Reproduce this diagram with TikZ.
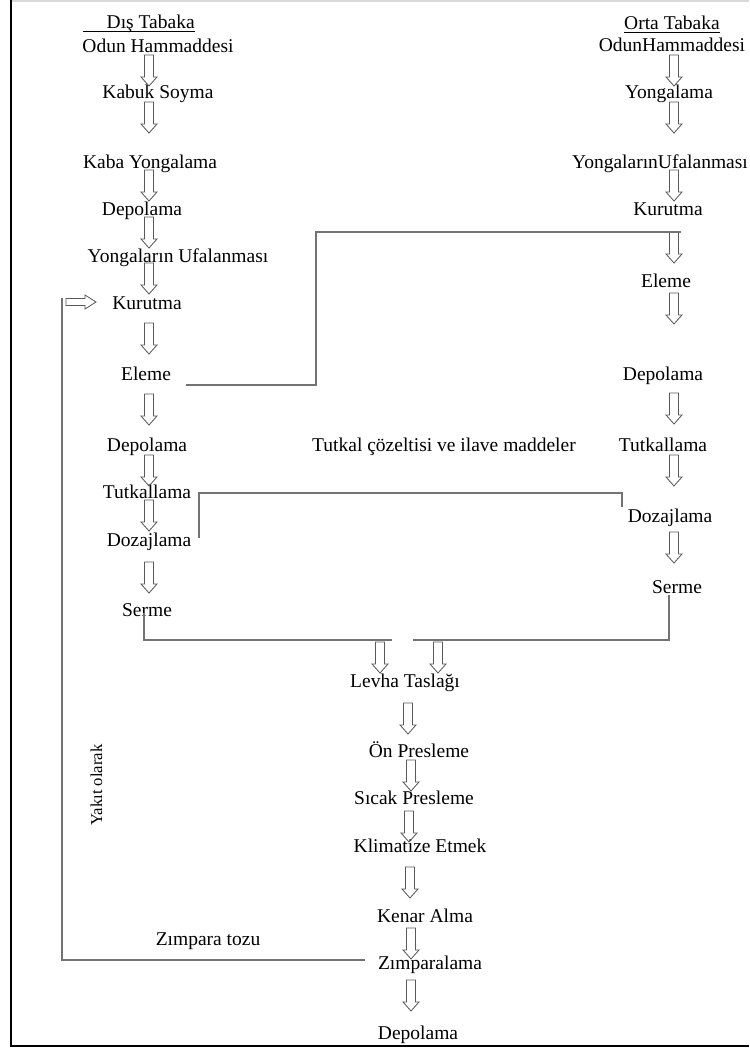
\documentclass[tikz,border=0pt]{standalone}
\usepackage{fontspec}
\setmainfont{Liberation Serif}
\begin{document}
\begin{tikzpicture}[x=0.6pt,y=-0.6pt,
    lbl/.style={anchor=base,inner sep=0pt,font=\fontsize{11.7}{14}\selectfont},
    flow/.style={draw=black!55,line width=0.7pt},
    downarr/.pic={\draw[black!65,line width=0.5pt] (-4.5,0) -- (4.5,0) -- (4.5,22) -- (8,22) -- (0,31) -- (-8,22) -- (-4.5,22) -- cycle;},
    rightarr/.pic={\draw[black!65,line width=0.5pt] (0,-3.5) -- (19,-3.5) -- (19,-7) -- (30,0) -- (19,7) -- (19,3.5) -- (0,3.5) -- cycle;}]
    \useasboundingbox (0,0) rectangle (749,1049);
    \draw[black!15,line width=1pt] (11,1) -- (749,1);
    \draw[line width=1pt] (11,0) -- (11,1046) -- (749,1046);
    % dis tabaka
    \node[lbl] (dis) at (139,29) {\underline{\hspace{14pt}Dı\smash{ş} Tabaka}};
    \node[lbl] (odunL) at (158,53) {Odun Hammaddesi};
    \node[lbl] (kabuk) at (158,99) {Kabuk Soyma};
    \node[lbl] (kabaL) at (150,169) {Kaba Yongalama};
    \node[lbl] (depoL1) at (142,216) {Depolama};
    \node[lbl] (ufalL) at (178,263) {Yongaların Ufalanması};
    \node[lbl] (kurutL) at (147,310) {Kurutma};
    \node[lbl] (elemeL) at (146,381) {Eleme};
    \node[lbl] (depoL2) at (147,451) {Depolama};
    \node[lbl] (tutkL) at (147,498) {Tutkallama};
    \node[lbl] (dozL) at (149,546) {Dozajlama};
    \node[lbl] (sermeL) at (147,616) {Serme};
    \pic at (149,55) {downarr};
    \pic at (149,102) {downarr};
    \pic at (149,170) {downarr};
    \pic at (149,217) {downarr};
    \pic at (149,263) {downarr};
    \pic at (149,323) {downarr};
    \pic at (149,394) {downarr};
    \pic at (149,455) {downarr};
    \pic at (149,500) {downarr};
    \pic at (149,562) {downarr};
    \pic at (66,302) {rightarr};
    % orta tabaka
    \node[lbl] (orta) at (672,30) {\underline{Orta Tabaka}};
    \node[lbl] (odunR) at (672,52) {OdunHammaddesi};
    \node[lbl] (yongR) at (669,99) {Yongalama};
    \node[lbl] (ufalR) at (660,169) {YongalarınUfalanması};
    \node[lbl] (kurutR) at (668,216) {Kurutma};
    \node[lbl] (elemeR) at (666,288) {Eleme};
    \node[lbl] (depoR) at (663,381) {Depolama};
    \node[lbl] (tutkR) at (663,451) {Tutkallama};
    \node[lbl] (dozR) at (670,522) {Dozajlama};
    \node[lbl] (sermeR) at (677,593) {Serme};
    \pic at (674,55) {downarr};
    \pic at (674,102) {downarr};
    \pic at (674,170) {downarr};
    \pic at (674,232) {downarr};
    \pic at (674,293) {downarr};
    \pic at (674,393) {downarr};
    \pic at (674,455) {downarr};
    \pic at (674,532) {downarr};
    \node[lbl] (tutkal) at (444,451) {Tutkal çözeltisi ve ilave maddeler};
    % ortak hat
    \node[lbl] (levha) at (405,687) {Levha Taslağı};
    \node[lbl] (onpres) at (419,757) {Ön Presleme};
    \node[lbl] (sicak) at (414,804) {Sıcak Presleme};
    \node[lbl] (klima) at (420,852) {Klimatize Etmek};
    \node[lbl] (kenar) at (425,922) {Kenar Alma};
    \node[lbl] (zimp) at (430,969) {Zımparalama};
    \node[lbl] (depoS) at (418,1039) {Depolama};
    \node[lbl] (toz) at (208,945) {Zımpara tozu};
    \node[lbl,rotate=90,font=\fontsize{10}{12}\selectfont] (yakit) at (102,785) {Yakıt olarak};
    \pic at (380,642) {downarr};
    \pic at (438,642) {downarr};
    \pic at (408,703) {downarr};
    \pic at (411,760) {downarr};
    \pic at (409,811) {downarr};
    \pic at (410,867) {downarr};
    \pic at (411,928) {downarr};
    \pic at (411,980) {downarr};
    % baglanti cizgileri
    \coordinate (elemeout) at (186,385);
    \coordinate (elemein) at (681,232);
    \coordinate (dozout) at (199,538);
    \coordinate (dozin) at (622,507);
    \coordinate (sermeLout) at (144,613);
    \coordinate (sermeRout) at (669,595);
    \coordinate (gapL) at (392,640);
    \coordinate (gapR) at (413,640);
    \coordinate (zimpout) at (365,960);
    \coordinate (kurutin) at (62,298);
    \draw[flow] (elemeout) -- (316,385) -- (316,232) -- (elemein);
    \draw[flow] (dozout) -- (199,493) -- (dozin |- 0,493) -- (dozin);
    \draw[flow] (sermeLout) |- (gapL);
    \draw[flow] (sermeRout) |- (gapR);
    \draw[flow] (zimpout) -| (kurutin);
\end{tikzpicture}
\end{document}
